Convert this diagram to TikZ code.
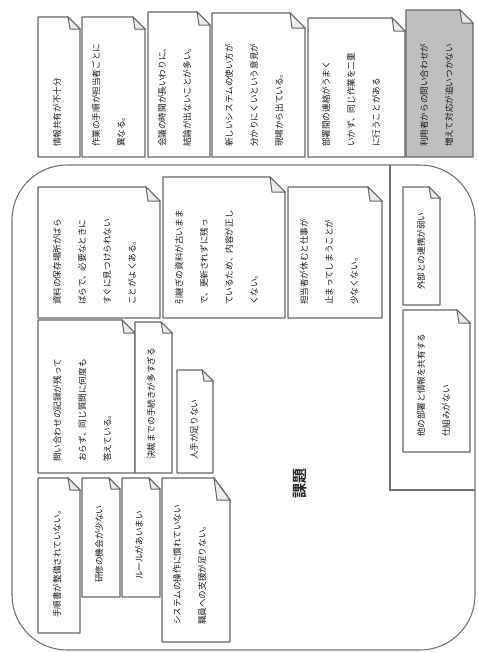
\documentclass[tikz,border=0pt]{standalone}
\usepackage{fontspec}
\newfontfamily\jpfont{Noto Sans CJK JP}[BoldFont={Noto Sans CJK JP Bold}]
\usepackage{tikz}
\usepackage{xcolor}

\tikzset{
  memo/.style={draw=black!60, line width=1.3pt, fill=white, line join=round},
  fold/.style={draw=black!60, line width=1pt, fill=black!8},
  frame/.style={draw=black!55, line width=1.1pt},
  memotext/.style={rotate=90, anchor=north west, inner sep=0pt, align=left,
    text=black!90, font=\jpfont\fontsize{8.6}{25}\selectfont}
}

\begin{document}
\begin{tikzpicture}[x=1pt, y=-1pt]
    \useasboundingbox (0,0) rectangle (478,653);

    % outer frame
    \draw[frame, rounded corners=55] (12,165) rectangle (475,650);
    \draw[frame] (390,165) -- (390,490) -- (475,490);
    \node[rotate=90, font=\jpfont\bfseries\fontsize{15}{15}\selectfont, text=black!85] (kadai) at (300,483) {課題};

    % top row
    \draw[memo] (38,17) -- (68,17) -- (80,29) -- (80,157) -- (38,157) -- cycle;
    \draw[fold] (68,17) -- (70,29) -- (80,29) -- cycle;
    \node[memotext] (kyoyu) at (53,147) {情報共有が不十分};

    \draw[memo] (82,17) -- (133,17) -- (145,29) -- (145,157) -- (82,157) -- cycle;
    \draw[fold] (133,17) -- (135,29) -- (145,29) -- cycle;
    \node[memotext] (tejun) at (92,147) {作業の手順が担当者ごとに\\異なる。};

    \draw[memo] (148,12) -- (197,12) -- (210,25) -- (210,157) -- (148,157) -- cycle;
    \draw[fold] (197,12) -- (199,25) -- (210,25) -- cycle;
    \node[memotext] (kaigi) at (158,147) {会議の時間が長いわりに、\\結論が出ないことが多い。};

    \draw[memo] (212,13) -- (290,13) -- (305,28) -- (305,157) -- (212,157) -- cycle;
    \draw[fold] (290,13) -- (292,28) -- (305,28) -- cycle;
    \node[memotext] (system) at (225,147) {新しいシステムの使い方が\\分かりにくいという意見が\\現場から出ている。};

    \draw[memo] (308,18) -- (392,18) -- (405,31) -- (405,157) -- (308,157) -- cycle;
    \draw[fold] (392,18) -- (394,31) -- (405,31) -- cycle;
    \node[memotext] (renraku) at (322,147) {部署間の連絡がうまく\\いかず、同じ作業を二重\\に行うことがある};

    \draw[memo, fill=black!25] (406,10) -- (460,10) -- (473,23) -- (473,157) -- (406,157) -- cycle;
    \draw[fold] (460,10) -- (462,23) -- (473,23) -- cycle;
    \node[memotext] (toiawase) at (420,147) {利用者からの問い合わせが\\増えて対応が追いつかない};

    % inside the frame
    \draw[memo] (38,187) -- (146,187) -- (160,201) -- (160,318) -- (38,318) -- cycle;
    \draw[fold] (146,187) -- (148,201) -- (160,201) -- cycle;
    \node[memotext] (shiryo) at (53,305) {資料の保存場所がばら\\ばらで、必要なときに\\すぐに見つけられない\\ことがよくある。};

    \draw[memo] (163,177) -- (270,177) -- (285,192) -- (285,318) -- (163,318) -- cycle;
    \draw[fold] (270,177) -- (272,192) -- (285,192) -- cycle;
    \node[memotext] (hikitsugi) at (175,305) {引継ぎの資料が古いまま\\で、更新されずに残っ\\ているため、内容が正し\\くない。};

    \draw[memo] (288,187) -- (368,187) -- (382,201) -- (382,318) -- (288,318) -- cycle;
    \draw[fold] (368,187) -- (370,201) -- (382,201) -- cycle;
    \node[memotext] (yasumi) at (300,305) {担当者が休むと仕事が\\止まってしまうことが\\少なくない。};

    \draw[memo] (38,320) -- (122,320) -- (135,333) -- (135,473) -- (38,473) -- cycle;
    \draw[fold] (122,320) -- (124,333) -- (135,333) -- cycle;
    \node[memotext] (kiroku) at (53,462) {問い合わせの記録が残って\\おらず、同じ質問に何度も\\答えている。};

    \draw[memo] (135,322) -- (161,322) -- (172,333) -- (172,473) -- (135,473) -- cycle;
    \draw[fold] (161,322) -- (163,333) -- (172,333) -- cycle;
    \node[memotext] (kessai) at (147,460) {決裁までの手続きが多すぎる};

    \draw[memo] (177,370) -- (202,370) -- (213,381) -- (213,473) -- (177,473) -- cycle;
    \draw[fold] (202,370) -- (204,381) -- (213,381) -- cycle;
    \node[memotext] (hitode) at (190,460) {人手が足りない};

    \draw[memo] (38,478) -- (68,478) -- (80,490) -- (80,633) -- (38,633) -- cycle;
    \draw[fold] (68,478) -- (70,490) -- (80,490) -- cycle;
    \node[memotext] (manual) at (53,618) {手順書が整備されていない。};

    \draw[memo] (82,478) -- (109,478) -- (120,489) -- (120,597) -- (82,597) -- cycle;
    \draw[fold] (109,478) -- (111,489) -- (120,489) -- cycle;
    \node[memotext] (kenshu) at (95,583) {研修の機会が少ない};

    \draw[memo] (122,478) -- (149,478) -- (160,489) -- (160,597) -- (122,597) -- cycle;
    \draw[fold] (149,478) -- (151,489) -- (160,489) -- cycle;
    \node[memotext] (rule) at (135,580) {ルールがあいまい};

    \draw[memo] (162,478) -- (214,478) -- (230,500) -- (230,642) -- (162,642) -- cycle;
    \draw[fold] (214,478) -- (217,500) -- (230,500) -- cycle;
    \node[memotext] (sosa) at (173,625) {システムの操作に慣れていない\\職員への支援が足りない。};

    % right part
    \draw[memo] (403,187) -- (429,187) -- (440,198) -- (440,305) -- (403,305) -- cycle;
    \draw[fold] (429,187) -- (431,198) -- (440,198) -- cycle;
    \node[memotext] (gaibu) at (417,290) {外部との連携が弱い};

    \draw[memo] (403,310) -- (457,310) -- (470,323) -- (470,452) -- (403,452) -- cycle;
    \draw[fold] (457,310) -- (459,323) -- (470,323) -- cycle;
    \node[memotext] (shikumi) at (417,437) {他の部署と情報を共有する\\仕組みがない};
\end{tikzpicture}
\end{document}
